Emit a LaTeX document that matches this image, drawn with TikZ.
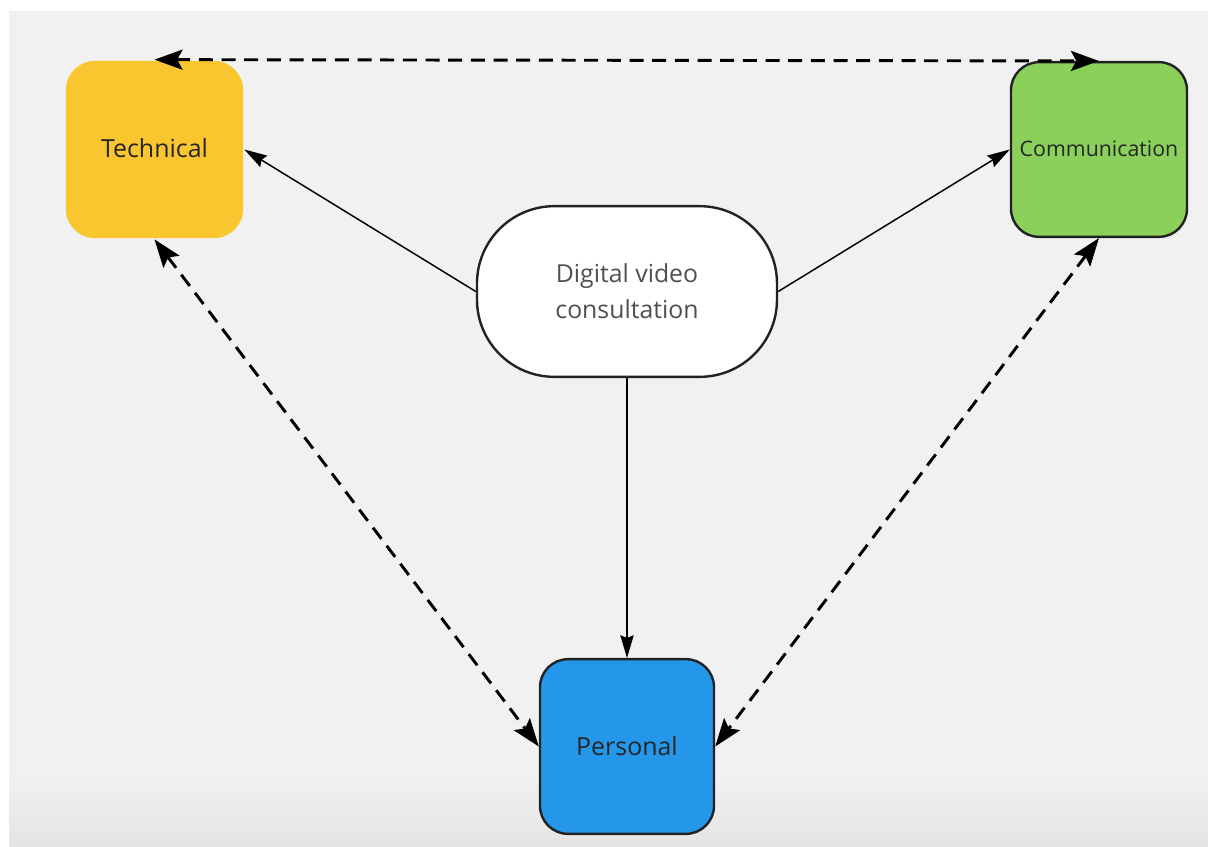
\documentclass[tikz,border=0pt]{standalone}
\usepackage{fontspec}
\setmainfont{Open Sans}
\usetikzlibrary{arrows.meta}
\definecolor{bggray}{HTML}{F1F1F1}
\definecolor{bgdark}{HTML}{E4E4E4}
\definecolor{techfill}{HTML}{F9C62F}
\definecolor{comfill}{HTML}{8BD05B}
\definecolor{perfill}{HTML}{2597EA}
\definecolor{edgecol}{HTML}{222222}
\definecolor{txtdark}{HTML}{262626}
\definecolor{txtgray}{HTML}{505050}
\tikzset{
  box/.style={rectangle, rounded corners=21pt, minimum width=132pt, minimum height=131pt,
    inner sep=0pt, draw=edgecol, line width=1.8pt, text=txtdark, font=\fontsize{18.7}{22}\selectfont},
  solidarrow/.style={draw=black, line width=1.1pt, -{Stealth[length=17pt,width=10pt,inset=2pt]}},
  dasharrow/.style={draw=black, line width=2.2pt, dash pattern=on 10.5pt off 6.5pt,
    {Stealth[length=21pt,width=15pt,inset=4pt]}-{Stealth[length=21pt,width=15pt,inset=4pt]}}
}
\begin{document}
\begin{tikzpicture}[x=0.75pt,y=-0.75pt]
\useasboundingbox (0,0) rectangle (1208,847);
\fill[white] (0,0) rectangle (1208,847);
\fill[bggray] (9,11) rectangle (1208,847);
\shade[top color=bggray,bottom color=bgdark] (9,775) rectangle (1208,847);

\node[box, draw=none, fill=techfill, rounded corners=22pt, minimum width=133pt, minimum height=133pt] (tech) at (154.5,149.5) {\raisebox{1.5pt}{Technical}};
\node[box, fill=comfill, font=\fontsize{16}{19}\selectfont] (com) at (1099,149.5) {\raisebox{1pt}{Communication}};
\node[box, fill=perfill, minimum width=130.5pt] (per) at (627,746.5) {\raisebox{1pt}{Personal}};
\node[rectangle, rounded corners=58pt, minimum width=225pt, minimum height=128pt, inner sep=0pt,
  draw=edgecol, line width=1.8pt, fill=white, text=txtgray, align=center,
  font=\fontsize{18.6}{27}\selectfont] (dig) at (627,291.5) {Digital video\\consultation};

\draw[solidarrow] (dig.west) -- (tech.east);
\draw[solidarrow] (dig.east) -- (com.west);
\draw[solidarrow] (dig.south) -- (per.north);

\draw[dasharrow] (tech.north) -- (com.north);
\draw[dasharrow] (tech.south) -- (per.west);
\draw[dasharrow] (com.south) -- (per.east);
\end{tikzpicture}
\end{document}
